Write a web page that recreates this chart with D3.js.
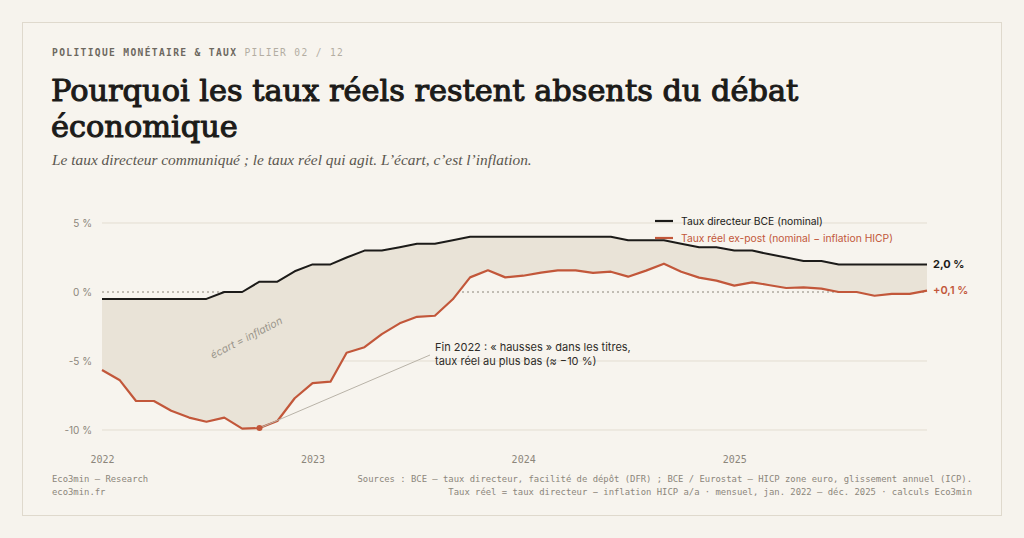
<!DOCTYPE html>
<html lang="fr">
<head>
<meta charset="utf-8">
<script src="https://cdn.jsdelivr.net/npm/d3@7"></script>
<style>
  html, body { margin: 0; padding: 0; background: #f6f3ed; }
  svg { display: block; }
  .mono { font-family: "DejaVu Sans Mono", "Liberation Mono", monospace; }
  .sans { font-family: Inter, "Noto Sans", sans-serif; }
  .serif { font-family: "DejaVu Serif", "Liberation Serif", serif; }
  .serif-it { font-family: "Liberation Serif", "DejaVu Serif", serif; font-style: italic; }
</style>
</head>
<body>
<div id="chart"></div>
<script>
// Taux directeur BCE vs taux réel ex-post, mensuel jan. 2022 – déc. 2025

const startMonth = '2022-01';
const years = ['2022', '2023', '2024', '2025'];
const yTicks = [5, 0, -5, -10];

// taux directeur (facilité de dépôt), en %
const nominal = [
  -0.5, -0.5, -0.5, -0.5, -0.5, -0.5, -0.5, 0, 0, 0.75, 0.75, 1.5,
  2.0, 2.0, 2.5, 3.0, 3.0, 3.25, 3.5, 3.5, 3.75, 4.0, 4.0, 4.0,
  4.0, 4.0, 4.0, 4.0, 4.0, 4.0, 3.75, 3.75, 3.75, 3.5, 3.25, 3.25,
  3.0, 3.0, 2.75, 2.5, 2.25, 2.25, 2.0, 2.0, 2.0, 2.0, 2.0, 2.0
];
// taux réel = nominal − inflation HICP a/a, en %
const real = [
  -5.65, -6.4, -7.9, -7.9, -8.6, -9.1, -9.4, -9.1, -9.9, -9.86, -9.35, -7.7,
  -6.6, -6.5, -4.4, -4.0, -3.05, -2.27, -1.8, -1.72, -0.53, 1.06, 1.57, 1.06,
  1.18, 1.4, 1.57, 1.57, 1.38, 1.47, 1.11, 1.55, 2.05, 1.47, 1.04, 0.82,
  0.46, 0.7, 0.51, 0.29, 0.34, 0.24, 0.0, 0.0, -0.27, -0.14, -0.14, 0.1
];

const W = 1024, H = 538;
const C = { ink: '#1c1b19', red: '#c2573a', grid: '#e3ddd1', muted: '#8c867b', fill: '#e9e3d7' };

const t0 = d3.utcParse('%Y-%m')(startMonth);
const data = nominal.map((n, i) => ({ date: d3.utcMonth.offset(t0, i), nom: n, real: real[i] }));

const x = d3.scaleUtc()
  .domain(d3.extent(data, d => d.date))
  .range([102, 927]);
const y = d3.scaleLinear().domain([-10, 5]).range([430, 223]);

const svg = d3.select('#chart').append('svg')
  .attr('width', W).attr('height', H).attr('viewBox', `0 0 ${W} ${H}`);

// carte
svg.append('rect').attr('x', 22.5).attr('y', 22.5).attr('width', 979).attr('height', 493)
  .attr('fill', '#f7f4ee').attr('stroke', '#dfd9cd');

// en-tête
const kicker = svg.append('text').attr('class', 'mono').attr('x', 52).attr('y', 56)
  .attr('font-size', 9.6).attr('letter-spacing', 1.35).attr('font-weight', 700);
kicker.append('tspan').attr('fill', '#6d685f').text('POLITIQUE MONÉTAIRE & TAUX ');
kicker.append('tspan').attr('fill', '#b3ada2').attr('font-weight', 400).text('PILIER 02 / 12');

const title = svg.append('text').attr('class', 'serif').attr('x', 51)
  .attr('font-size', 30.4).attr('fill', C.ink)
  .attr('stroke', C.ink).attr('stroke-width', 1.1).attr('stroke-linejoin', 'round');
title.append('tspan').attr('x', 51).attr('y', 101).text('Pourquoi les taux réels restent absents du débat');
title.append('tspan').attr('x', 51).attr('y', 136.5).text('économique');

svg.append('text').attr('class', 'serif-it').attr('x', 52).attr('y', 165)
  .attr('font-size', 15.4).attr('fill', '#5b574f')
  .text('Le taux directeur communiqué ; le taux réel qui agit. L’écart, c’est l’inflation.');

// grille
const g = svg.append('g');
g.selectAll('line.grid').data(yTicks).join('line')
  .attr('x1', x.range()[0]).attr('x2', x.range()[1])
  .attr('y1', d => y(d)).attr('y2', d => y(d))
  .attr('stroke', d => d === 0 ? '#8c867b' : C.grid)
  .attr('stroke-width', 1)
  .attr('stroke-dasharray', d => d === 0 ? '2,3' : null);

g.selectAll('text.ytick').data(yTicks).join('text')
  .attr('class', 'sans').attr('x', 92).attr('y', d => y(d)).attr('dy', '0.35em')
  .attr('text-anchor', 'end').attr('font-size', 10).attr('fill', C.muted)
  .text(d => `${d < 0 ? '-' : ''}${Math.abs(d)} %`);

// axe des années
const xAxis = svg.append('g').attr('transform', 'translate(0,460)')
  .call(d3.axisBottom(x).tickValues(years.map(yy => d3.utcParse('%Y')(yy))).tickFormat(d3.utcFormat('%Y')).tickSize(0));
xAxis.select('.domain').remove();
xAxis.selectAll('text').attr('class', 'mono').attr('font-size', 10).attr('fill', C.muted).attr('dy', '0');

// écart (zone entre les deux courbes)
g.append('path').datum(data)
  .attr('fill', C.fill)
  .attr('d', d3.area().x(d => x(d.date)).y0(d => y(d.real)).y1(d => y(d.nom)));

g.append('text').attr('class', 'sans')
  .attr('transform', `translate(248,341) rotate(-27)`)
  .attr('text-anchor', 'middle').attr('font-size', 10.5).attr('font-style', 'italic')
  .attr('fill', '#9a958b').text('écart = inflation');

const line = key => d3.line().x(d => x(d.date)).y(d => y(d[key]));
g.append('path').datum(data).attr('fill', 'none').attr('stroke', C.ink)
  .attr('stroke-width', 2).attr('stroke-linejoin', 'round').attr('d', line('nom'));
g.append('path').datum(data).attr('fill', 'none').attr('stroke', C.red)
  .attr('stroke-width', 2.2).attr('stroke-linejoin', 'round').attr('d', line('real'));

// annotation : point bas fin 2022
const low = data[9];
g.append('line')
  .attr('x1', x(low.date)).attr('y1', y(low.real))
  .attr('x2', 430).attr('y2', 355)
  .attr('stroke', '#b9b3a8').attr('stroke-width', 1);
g.append('circle').attr('cx', x(low.date)).attr('cy', y(low.real)).attr('r', 3).attr('fill', C.red);
const note = g.append('text').attr('class', 'sans').attr('font-size', 11).attr('fill', '#2e2c28');
note.append('tspan').attr('x', 435).attr('y', 351).text('Fin 2022 : « hausses » dans les titres,');
note.append('tspan').attr('x', 435).attr('y', 365).text('taux réel au plus bas (≈ −10 %)');

// libellés de fin
const last = data[data.length - 1];
g.append('text').attr('class', 'sans').attr('x', 933).attr('y', y(last.nom)).attr('dy', '0.35em')
  .attr('font-size', 11).attr('font-weight', 700).attr('fill', C.ink).text('2,0 %');
g.append('text').attr('class', 'sans').attr('x', 933).attr('y', y(last.real)).attr('dy', '0.35em')
  .attr('font-size', 11).attr('font-weight', 600).attr('fill', C.red).text('+0,1 %');

// légende
const legend = svg.append('g').attr('transform', 'translate(655,221)');
[['Taux directeur BCE (nominal)', C.ink, C.ink], ['Taux réel ex-post (nominal − inflation HICP)', C.red, C.red]]
  .forEach(([label, col, txt], i) => {
    legend.append('line').attr('x1', 0).attr('x2', 18).attr('y1', i * 17).attr('y2', i * 17)
      .attr('stroke', col).attr('stroke-width', 2.2);
    legend.append('text').attr('class', 'sans').attr('x', 26).attr('y', i * 17).attr('dy', '0.35em')
      .attr('font-size', 10.3).attr('fill', txt).text(label);
  });

// pied
const foot = svg.append('g').attr('class', 'mono').attr('font-size', 8.9).attr('fill', '#8c867b');
foot.append('text').attr('x', 52).attr('y', 482).text('Eco3min — Research');
foot.append('text').attr('x', 52).attr('y', 495).text('eco3min.fr');
foot.append('text').attr('x', 972).attr('y', 482).attr('text-anchor', 'end')
  .text('Sources : BCE — taux directeur, facilité de dépôt (DFR) ; BCE / Eurostat — HICP zone euro, glissement annuel (ICP).');
foot.append('text').attr('x', 972).attr('y', 495).attr('text-anchor', 'end')
  .text('Taux réel = taux directeur − inflation HICP a/a · mensuel, jan. 2022 – déc. 2025 · calculs Eco3min');
</script>
</body>
</html>
